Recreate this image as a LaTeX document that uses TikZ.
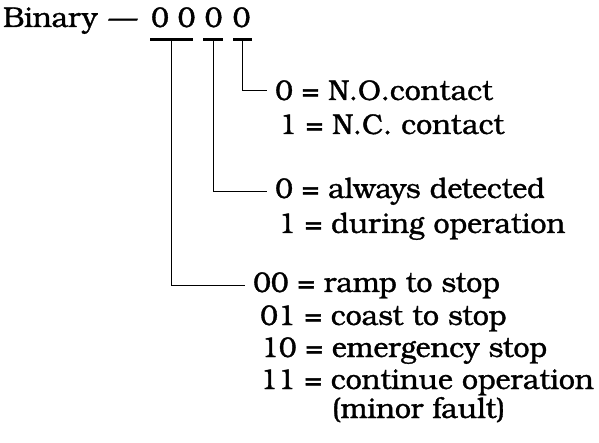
\documentclass[tikz,border=0pt]{standalone}
\usepackage{fontspec}
\newfontfamily\bkfont{texgyrebonum-regular.otf}[FakeBold=1.2]
\begin{document}
\begin{tikzpicture}[x=1pt,y=-1pt,
  lbl/.style={anchor=base west,inner sep=0pt,font=\bkfont\fontsize{28.5}{33}\selectfont},
  dig/.style={anchor=base,inner sep=0pt,font=\bkfont\fontsize{28.5}{33}\selectfont},
  bar/.style={line width=3pt},
  conn/.style={line width=0.9pt}]
\useasboundingbox (0,0) rectangle (599,443);
% heading
\node[lbl] (title) at (3,27) {Binary};
\node[dig] (dash) at (123,27) {—};
\node[dig] (d1) at (160,27) {0};
\node[dig] (d2) at (186.5,27) {0};
\node[dig] (d3) at (213.5,27) {0};
\node[dig] (d4) at (241.5,27) {0};
% underline bars
\draw[bar] (150,39.5) -- coordinate[pos=0.5] (b1) (193,39.5);
\draw[bar] (203,39.5) -- coordinate[pos=0.5] (b2) (223,39.5);
\draw[bar] (233,39.5) -- coordinate[pos=0.5] (b3) (252,39.5);
% texts
\node[lbl] (c0) at (275,100) {0 = N.O.contact};
\node[lbl] (c1) at (279,134) {1 = N.C. contact};
\node[lbl] (m0) at (275,198) {0 = always detected};
\node[lbl] (m1) at (278,233) {1 = during operation};
\node[lbl] (s00) at (253,292) {00 = ramp to stop};
\node[lbl] (s01) at (260,325) {01 = coast to stop};
\node[lbl] (s10) at (261,357) {10 = emergency stop};
\node[lbl] (s11) at (260,389) {11 = continue operation};
\node[lbl] (sm) at (332,418) {(minor fault)};
% connectors
\draw[conn] (b3) |- ([xshift=-8pt]c0.west);
\draw[conn] (b2) |- ([xshift=-8pt]m0.west);
\draw[conn] (b1) |- ([xshift=-8pt]s00.west);
\end{tikzpicture}
\end{document}
